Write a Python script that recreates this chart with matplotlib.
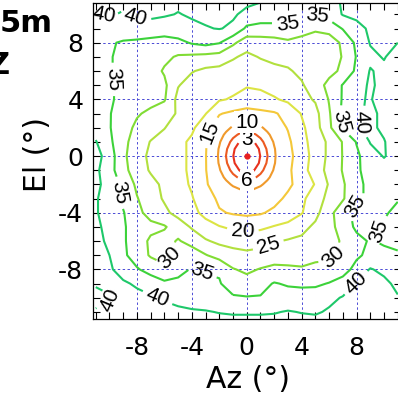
import numpy as np
import matplotlib
matplotlib.use("Agg")
import matplotlib.pyplot as plt
from matplotlib.ticker import MultipleLocator

plt.rcParams['font.family'] = ['DejaVu Sans']
plt.rcParams['axes.unicode_minus'] = False

# beam map, loss in dB (1 deg grid), rows from El=11 down to El=-12
az = np.arange(-11, 12)
el = np.arange(11, -13, -1)
loss = np.array([
    [41.5, 41, 41.5, 42, 42, 41.5, 41, 41.5, 42, 42, 41.5, 41, 40.5, 40, 39.5, 38.5, 37.5, 38.5, 40.5, 42, 42.5, 42.5, 42.5],
    [39.5, 40.5, 39.5, 40.5, 41, 40.5, 39.8, 40.5, 41, 41, 40.5, 39, 37.5, 37.5, 37, 36, 35.2, 37, 40.3, 41.5, 42, 42, 42],
    [38, 38.5, 38, 38.5, 38, 37.5, 38.5, 39, 39.7, 40.2, 39.3, 34, 33.5, 33.5, 34, 33, 31, 32, 35.3, 38, 41, 42, 41],
    [37, 35.5, 34.5, 34, 33.5, 33, 33.5, 35.5, 36.5, 35.3, 31, 27, 27.5, 28, 29, 27.5, 26.5, 27, 31, 36, 40.3, 41, 40],
    [36, 35.3, 34, 33, 32.5, 31, 29.5, 29, 28.5, 28, 25.5, 24, 25.3, 26, 26.5, 27, 27, 27.5, 30.3, 35.3, 39, 40.3, 38],
    [36, 35.3, 34, 33, 32, 29.5, 27, 25.3, 24, 23.5, 23, 22.5, 23, 24, 24.5, 26, 27.5, 28.5, 31, 36, 40.3, 39, 37],
    [37, 35.5, 34, 33, 32, 31, 25.3, 23, 22.5, 22, 21.5, 20.5, 21, 22, 23, 24.5, 27.5, 31.5, 35.3, 38.5, 40.5, 39, 37],
    [37, 35.5, 34, 32.5, 31.5, 30.5, 23.5, 22.5, 21.5, 20.5, 19.5, 17.5, 18, 19.5, 21, 23.5, 25.5, 30.3, 35.5, 39.5, 40.3, 38, 36],
    [37, 35.3, 32.5, 30.5, 29, 27, 24.5, 22, 20.2, 15.3, 14, 13.5, 14, 14.5, 16.5, 20.3, 23.5, 29.5, 36, 39, 41, 39, 36],
    [38, 35.3, 32, 29, 27, 25.2, 22.5, 21, 16.5, 12.5, 11, 10.5, 11, 12.5, 15.3, 19, 23, 29, 35.5, 39.5, 41, 39, 36],
    [40.3, 36, 31.5, 27.5, 24.8, 23, 21.5, 19, 15.3, 11, 5, 2.5, 5, 11, 14, 18.5, 22, 26, 30.3, 35.3, 40.3, 40.3, 37],
    [42, 37.5, 31, 27, 24, 22.5, 21.5, 19, 15.2, 9.5, 3, 0, 3, 9.5, 13.5, 17.5, 22, 26, 30.2, 34, 38, 40.3, 38],
    [41, 37, 31.5, 27.5, 24.5, 23, 21.5, 19, 15.2, 11, 5, 2.8, 5, 11, 14, 18, 22.5, 26.5, 30.3, 34, 37.5, 38, 36],
    [41.5, 37.5, 34, 29, 26.5, 24, 21.5, 19.5, 15.5, 12.5, 11, 10.5, 11, 12.5, 14, 17, 20.3, 25.5, 29.5, 33, 37, 38, 35.3],
    [40.5, 37.5, 34, 30.3, 27, 24.5, 22, 20.3, 17.5, 14, 12.5, 12.5, 12.5, 13.5, 16, 19, 22.5, 26.5, 29.5, 34, 36, 36, 35.3],
    [40.5, 37.5, 35.3, 31.5, 28, 26, 23.5, 21.5, 18.5, 15.5, 14.5, 14, 14.5, 16, 18, 19.7, 23.5, 28.5, 33, 36.5, 36.5, 35.5, 34],
    [41, 38.5, 35.5, 33, 31.5, 30.5, 27.5, 24.5, 22, 20.3, 19, 18.5, 19, 20.3, 21, 23.5, 26, 28.5, 32, 36, 36.5, 34.5, 33],
    [41.5, 39, 35.5, 33, 29, 28, 30.5, 28, 25.5, 24, 23.5, 23, 23.5, 24.5, 25.5, 26, 27, 28.5, 30.5, 33.5, 35.5, 34, 33],
    [42, 40, 36, 32.5, 29.5, 28.5, 31.5, 33, 30.3, 28, 26.5, 26, 26.5, 27, 27.5, 28, 29, 29.5, 30.5, 34, 36.5, 37, 36],
    [42, 40.5, 38.5, 35.5, 33, 31, 33, 35.5, 34.5, 34.5, 30.3, 29, 30.3, 31.5, 31, 30.5, 31, 30.8, 32.5, 37, 40.3, 39, 37],
    [40.5, 41.5, 40.5, 39.5, 38, 36, 36.5, 36.5, 36, 35.3, 33, 32, 33.5, 35.3, 34.5, 34, 34, 35.3, 37.5, 40.3, 42, 41, 39],
    [38.5, 39.5, 41.5, 41, 40.5, 39.5, 38.5, 38, 37.5, 37, 35.5, 35.3, 35.3, 36.5, 37, 37.5, 38, 39, 40.3, 41.5, 42, 41, 40.3],
    [40.5, 41.5, 41.5, 42, 42, 41.5, 41, 40.5, 40.3, 39.8, 39.5, 39.5, 39.5, 39.7, 40.3, 39.8, 39.5, 40.5, 41.5, 42, 42, 41.5, 41],
    [43, 43, 43, 43, 43, 43, 42.5, 42, 42, 42, 42, 42, 42, 42, 42, 42, 42, 42, 42.5, 43, 43, 43, 43],
])

# main lobe, finer 0.5 deg grid, rows from El=3 down to El=-3
az_c = np.arange(-2.5, 2.6, 0.5)
el_c = np.arange(3, -3.1, -0.5)
loss_c = np.array([
    [17.0, 15.7, 14.6, 13.8, 13.2, 13.0, 13.2, 13.8, 14.6, 15.7, 17.0],
    [15.6, 14.2, 12.9, 11.7, 10.9, 10.6, 10.9, 11.7, 12.9, 14.2, 15.6],
    [14.4, 12.7, 11.1, 9.4, 8.1, 7.6, 8.1, 9.4, 11.1, 12.7, 14.4],
    [13.4, 11.5, 9.2, 7.0, 5.4, 4.8, 5.4, 7.0, 9.2, 11.5, 13.4],
    [12.6, 10.4, 7.6, 4.9, 2.8, 1.9, 2.8, 4.9, 7.6, 10.4, 12.6],
    [12.2, 9.7, 6.4, 3.5, 1.4, 0.5, 1.4, 3.5, 6.4, 9.7, 12.2],
    [12.0, 9.5, 5.9, 3.1, 0.8, 0.0, 0.8, 3.1, 5.9, 9.5, 12.0],
    [12.2, 9.7, 6.4, 3.5, 1.4, 0.5, 1.4, 3.5, 6.4, 9.7, 12.2],
    [12.6, 10.4, 7.6, 4.9, 2.8, 1.9, 2.8, 4.9, 7.6, 10.4, 12.6],
    [13.4, 11.5, 9.2, 7.0, 5.4, 4.8, 5.4, 7.0, 9.2, 11.5, 13.4],
    [14.4, 12.7, 11.1, 9.4, 8.1, 7.6, 8.1, 9.4, 11.1, 12.7, 14.4],
    [15.6, 14.2, 12.9, 11.7, 10.9, 10.6, 10.9, 11.7, 12.9, 14.2, 15.6],
    [17.0, 15.7, 14.6, 13.8, 13.2, 13.0, 13.2, 13.8, 14.6, 15.7, 17.0],
])

inner_levels = [3, 6, 10]
outer_levels = [15, 20, 25, 30, 35, 40]
level_colors = {3: '#e8321e', 6: '#ec5a22', 10: '#f09a2c', 15: '#f4c83a',
                20: '#dce444', 25: '#b2e03e', 30: '#80dc34', 35: '#3cd23a', 40: '#1ec86a'}

beam_az = [0]
beam_el = [0]

# where the level numbers sit
inner_labels = [(3, 0, 1.2), (10, 0, 2.4), (6, 0, -1.7)]
outer_labels = [
    (15, -2.7, 1.7), (20, -0.3, -5.4), (25, 1.6, -6.4),
    (30, 6.7, -7.7), (30, -5.4, -7.4),
    (35, -3.3, -8.2), (35, 8.0, -3.6), (35, 9.7, -5.3), (35, 6.9, 2.4),
    (35, -9.8, 5.4), (35, -9.3, -2.6), (35, 3.0, 9.3), (35, 5.2, 10.0),
    (40, -10.4, 10.0), (40, -8.2, 9.6), (40, 8.3, 2.4), (40, -6.5, -10.0),
    (40, 8.1, -9.1), (40, -9.8, -10.3),
]

fig = plt.figure(figsize=(3.98, 3.97), dpi=100)
ax = fig.add_axes([93 / 398, 78 / 397, 307.5 / 398, 316 / 397])

X, Y = np.meshgrid(az, el[::-1])
Xc, Yc = np.meshgrid(az_c, el_c[::-1])

# one contour set per level so each label snaps to its own line
sets = {}
for lev in outer_levels:
    sets[lev] = ax.contour(X, Y, loss[::-1], levels=[lev],
                           colors=[level_colors[lev]], linewidths=1.5)
for lev in inner_levels:
    sets[lev] = ax.contour(Xc, Yc, loss_c[::-1], levels=[lev],
                           colors=[level_colors[lev]], linewidths=1.5)

lab_font = 'Liberation Sans'
for lev, x, y in outer_labels:
    texts = sets[lev].clabel(manual=[(x, y)], inline=True, inline_spacing=3,
                             fontsize=15, fmt='%d', colors='k')
    for t in texts:
        t.set_family(lab_font)

for lev, x, y in inner_labels:
    texts = sets[lev].clabel(manual=[(x, y)], inline=True, inline_spacing=3,
                             fontsize=15, fmt='%d', colors='k')
    for t in texts:
        t.set_family(lab_font)
        t.set_rotation(0)
        t.set_zorder(5)
        t.set_bbox(dict(boxstyle='square,pad=0.05', facecolor='white', edgecolor='none'))

ax.plot(beam_az, beam_el, 'o', color='#e82020', ms=3.5, zorder=6)

ax.set_xlim(-11.2, 11.2)
ax.set_ylim(-11.5, 10.8)
ax.set_xticks([-8, -4, 0, 4, 8])
ax.set_yticks([-8, -4, 0, 4, 8])
ax.xaxis.set_minor_locator(MultipleLocator(1))
ax.yaxis.set_minor_locator(MultipleLocator(1))
ax.tick_params(which='both', direction='in', top=True, right=True, length=5, width=0.8)
ax.tick_params(axis='x', which='major', labelsize=18, pad=12)
ax.tick_params(axis='y', which='major', labelsize=18, pad=7)
ax.set_axisbelow(True)
ax.grid(True, which='major', color='#4b4bd6', linestyle=(0, (2.5, 2.5)), linewidth=0.7)
for s in ax.spines.values():
    s.set_linewidth(0.9)

ax.set_xlabel('Az (°)', fontsize=21.5)
ax.set_ylabel('El (°)', fontsize=21.5)
ax.xaxis.set_label_coords(0.504, -0.145)
ax.yaxis.set_label_coords(-0.133, 0.522)

fig.text(53 / 398, 1 - 24 / 397, '5m', ha='right', va='center', fontsize=22, fontweight='bold')
fig.text(10 / 398, 1 - 66 / 397, 'Z', ha='right', va='center', fontsize=22, fontweight='bold')

fig.savefig('out.png', dpi=100)
